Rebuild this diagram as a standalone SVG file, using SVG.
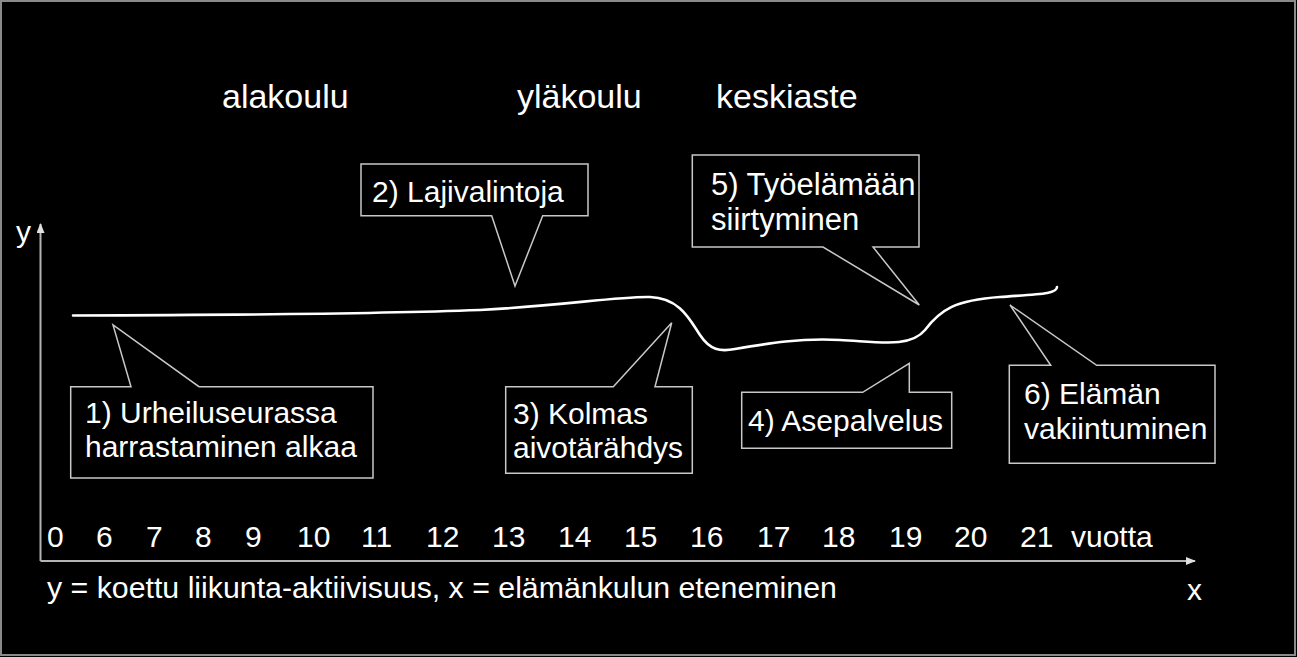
<svg xmlns="http://www.w3.org/2000/svg" width="1297" height="657" viewBox="0 0 1297 657">
<defs>
<style>
text{font-family:"Liberation Sans",Arial,sans-serif;fill:#ffffff;font-size:30px}
.hdr{font-size:34px}
.big{font-size:31px}
.cap{font-size:30.3px}
.call{fill:#000;stroke:#c8c8c8;stroke-width:1.5;stroke-linejoin:miter}
.axis{stroke:#b4b4b4;stroke-width:2;fill:none}
.curve{stroke:#ffffff;stroke-width:2.6;fill:none;stroke-linecap:round}
</style>
<marker id="ah" markerWidth="10" markerHeight="8" refX="9" refY="4" orient="auto" markerUnits="userSpaceOnUse">
<path d="M0,0 L10,4 L0,8 Z" fill="#e0e0e0"/>
</marker>
</defs>
<rect x="0" y="0" width="1297" height="657" fill="#000"/>
<rect x="1" y="1" width="1294" height="654" fill="none" stroke="#8a8a8a" stroke-width="2"/>

<g id="headers">
<text class="hdr" x="222" y="108">alakoulu</text>
<text class="hdr" x="517" y="108">yläkoulu</text>
<text class="hdr" x="716" y="108">keskiaste</text>
</g>

<g id="connectors">
<line class="axis" x1="40.5" y1="561" x2="40.5" y2="224" marker-end="url(#ah)"/>
<line class="axis" x1="40.5" y1="561" x2="1195" y2="561" marker-end="url(#ah)"/>
<path class="curve" d="M73,315.5 C250,315 400,313 480,310 C560,306 620,296 650,297 C680,298 690,320 700,335 C710,350 720,352 735,349 C770,343 800,338 840,340 C880,342 910,348 925,330 C940,310 955,300 1000,297 C1040,294 1057,294 1057,287"/>
</g>

<g id="axis-labels">
<text x="16" y="242">y</text>
<text x="1187" y="600">x</text>
<text x="47" y="547">0</text>
<text x="96" y="547">6</text>
<text x="146" y="547">7</text>
<text x="195" y="547">8</text>
<text x="245" y="547">9</text>
<text x="297" y="547">10</text>
<text x="361" y="547">11</text>
<text x="426" y="547">12</text>
<text x="492" y="547">13</text>
<text x="558" y="547">14</text>
<text x="624" y="547">15</text>
<text x="690" y="547">16</text>
<text x="757" y="547">17</text>
<text x="822" y="547">18</text>
<text x="889" y="547">19</text>
<text x="954" y="547">20</text>
<text x="1020" y="547">21</text>
<text x="1071" y="547">vuotta</text>
<text class="cap" x="47" y="598">y = koettu liikunta-aktiivisuus, x = elämänkulun eteneminen</text>
</g>

<g id="callout1">
<path class="call" d="M70.7,386.7 L131,386.7 L113,325 L199,386.7 L373,386.7 L373,478 L70.7,478 Z"/>
<text x="85" y="422.5">1) Urheiluseurassa</text>
<text x="85" y="457">harrastaminen alkaa</text>
</g>

<g id="callout2">
<path class="call" d="M361,164 L588,164 L588,215.7 L542.7,215.7 L515,286 L491.7,215.7 L361,215.7 Z"/>
<text x="372" y="202">2) Lajivalintoja</text>
</g>

<g id="callout3">
<path class="call" d="M505.7,386.7 L613.3,386.7 L671.7,322.7 L655,386.7 L692.3,386.7 L692.3,473.3 L505.7,473.3 Z"/>
<text x="513" y="424">3) Kolmas</text>
<text x="513" y="458">aivotärähdys</text>
</g>

<g id="callout4">
<path class="call" d="M741.7,392.3 L862.7,392.3 L909.3,363.3 L909.3,392.3 L951.7,392.3 L951.7,448.3 L741.7,448.3 Z"/>
<text x="748" y="431">4) Asepalvelus</text>
</g>

<g id="callout5">
<path class="call" d="M692.3,155 L919,155 L919,247 L873,247 L919.3,305 L823,247 L692.3,247 Z"/>
<text class="big" x="711" y="195">5) Työelämään</text>
<text class="big" x="711" y="229.5">siirtyminen</text>
</g>

<g id="callout6">
<path class="call" d="M1009.3,365.3 L1050.7,365.3 L1010,305 L1096.7,365.3 L1215,365.3 L1215,463.3 L1009.3,463.3 Z"/>
<text x="1024" y="404">6) Elämän</text>
<text x="1024" y="438.5">vakiintuminen</text>
</g>
</svg>
